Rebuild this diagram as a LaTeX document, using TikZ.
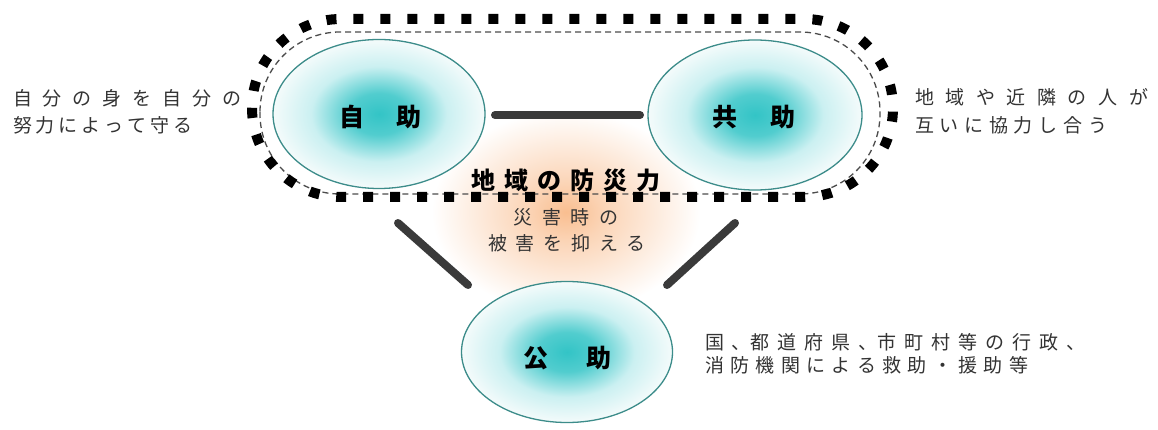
\documentclass[tikz,border=0pt]{standalone}
\usepackage{fontspec}
\setmainfont{Noto Sans CJK JP}
\usetikzlibrary{shapes.geometric}
\definecolor{tqc}{HTML}{33C4C6}
\definecolor{tqm}{HTML}{A8E6E8}
\definecolor{tqe}{HTML}{F4FBFB}
\definecolor{tqline}{HTML}{3C8C8A}
\definecolor{txt}{HTML}{333333}
\definecolor{barc}{HTML}{3A3A3A}
\definecolor{glowc}{HTML}{F9BE90}
\pgfdeclareradialshading{tq}{\pgfpoint{0bp}{0bp}}{color(0bp)=(tqc);color(7bp)=(tqc!85!white);color(16bp)=(tqm!60!white);color(25bp)=(tqe);color(50bp)=(tqe)}
\pgfdeclareradialshading{glow}{\pgfpoint{0bp}{0bp}}{color(0bp)=(glowc);color(7bp)=(glowc!65!white);color(24bp)=(white);color(50bp)=(white)}
\newcommand\spr[2]{\makebox[#1][s]{#2}}
\begin{document}
\begin{tikzpicture}[x=1pt,y=-1pt,
  ell/.style={ellipse, draw=tqline, line width=1.3pt, shading=tq, inner sep=0pt},
  lbl/.style={font=\fontsize{25}{28}\selectfont\bfseries, text=black},
  side/.style={inner sep=0pt, font=\fontsize{19}{21}\selectfont, text=txt},
  bar/.style={draw=barc, line width=8pt, line cap=round},
  mid/.style={inner sep=0pt, font=\fontsize{19}{21}\selectfont, text=txt}]
\useasboundingbox[fill=white] (0,0) rectangle (1158,430);
% glow
\shade[shading=glow] (566,212) ellipse (140 and 105);
% thin dashed frame
\draw[draw=black!70, line width=1.3pt, dash pattern=on 6pt off 4pt, rounded corners=80pt] (260,32) rectangle (880,194);
% ellipses
\node[ell, minimum width=212pt, minimum height=149pt] (jijo) at (379,114) {};
\node[ell, minimum width=214pt, minimum height=150pt] (kyojo) at (755,115) {};
\node[ell, minimum width=211pt, minimum height=141pt] (kojo) at (567,352) {};
\node[lbl] (tjijo) at (380,117) {\spr{82pt}{自 助}};
\node[lbl] (tkyojo) at (754,117) {\spr{83pt}{共 助}};
\node[lbl] (tkojo) at (567,358) {\spr{88pt}{公 助}};
% thick dotted frame
\draw[line width=10pt, dash pattern=on 10pt off 17pt, rounded corners=89pt] (252,19) rectangle (893,197);
% connectors
\coordinate (h1) at (495,115);
\coordinate (h2) at (640,115);
\coordinate (a1) at (398,223);
\coordinate (a2) at (468,285);
\coordinate (b1) at (735,223);
\coordinate (b2) at (667,285);
\draw[bar] (h1) -- (h2);
\draw[bar] (a1) -- (a2);
\draw[bar] (b1) -- (b2);
% centre texts
\node[inner sep=0pt, font=\fontsize{24}{26}\selectfont\bfseries] (bosai) at (566,180) {\spr{190pt}{地 域 の 防 災 力}};
\node[mid] (m1) at (566,217) {\spr{106pt}{災 害 時 の}};
\node[mid] (m2) at (567,243) {\spr{158pt}{被 害 を 抑 え る}};
% side texts
\node[side] (l1) at (127.5,98) {\spr{229pt}{自 分 の 身 を 自 分 の}};
\node[side] (l2) at (103,125) {\spr{180pt}{努 力 に よ っ て 守 る}};
\node[side] (r1) at (1031.5,97) {\spr{233pt}{地 域 や 近 隣 の 人 が}};
\node[side] (r2) at (1011,125) {\spr{192pt}{互 い に 協 力 し 合 う}};
\node[side] (b1t) at (895,342) {\spr{380pt}{国 、都 道 府 県 、市 町 村 等 の 行 政 、}};
\node[side] (b2t) at (866.5,365) {\spr{323pt}{消 防 機 関 に よ る 救 助 ・ 援 助 等}};
\end{tikzpicture}
\end{document}
